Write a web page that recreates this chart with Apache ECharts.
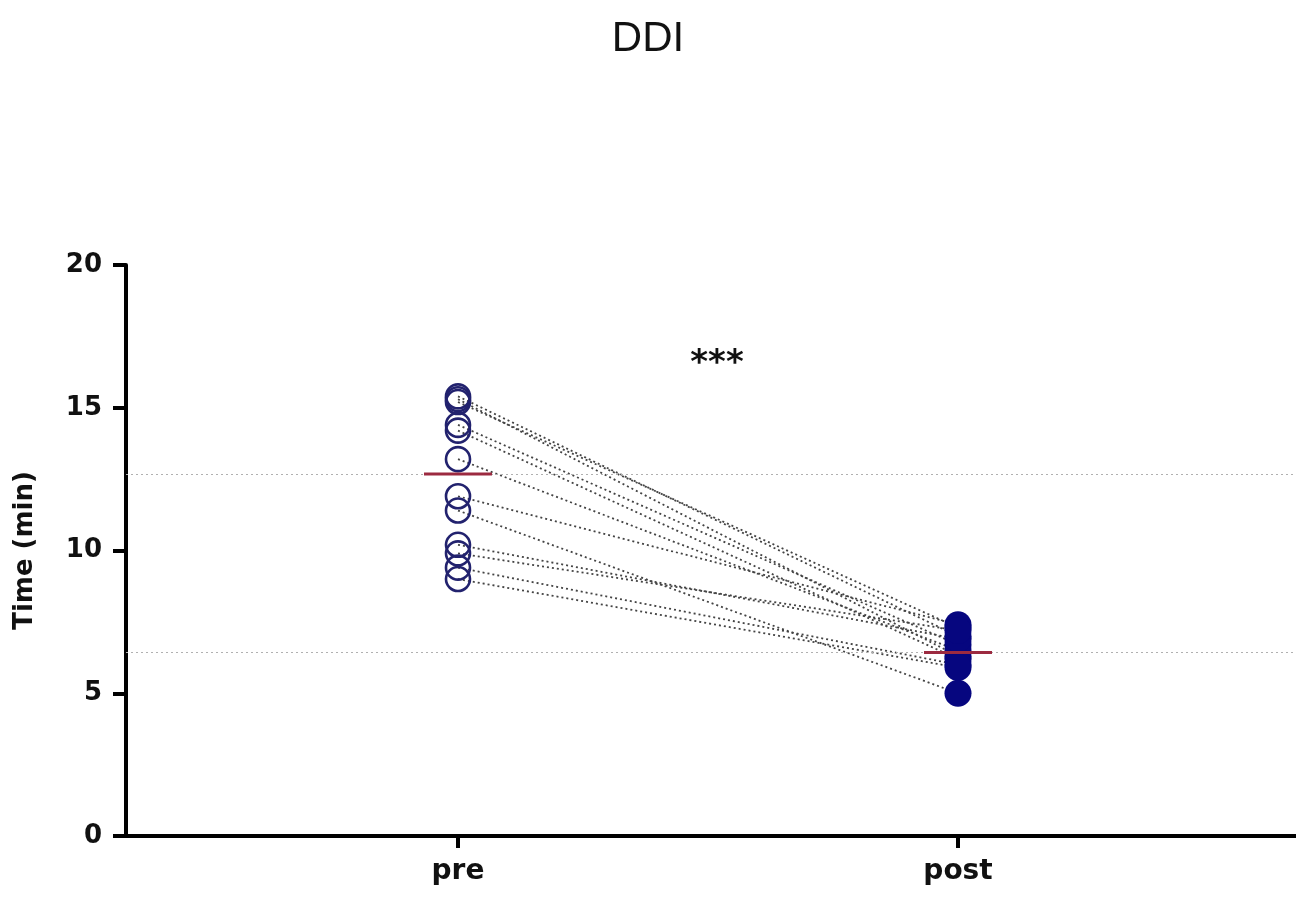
<!DOCTYPE html>
<html>
<head>
<meta charset="utf-8">
<title>DDI</title>
<script src="https://cdn.jsdelivr.net/npm/echarts@6/dist/echarts.min.js"></script>
<style>
html, body { margin: 0; padding: 0; background: #ffffff; }
#chart { width: 1296px; height: 902px; }
</style>
</head>
<body>
<div id="chart"></div>
<script>
// values, one entry per subject (pre -> post)
var groups = ["pre", "post"];
var preTime = [15.4, 15.3, 15.2, 14.4, 14.2, 13.2, 11.9, 11.4, 10.2, 9.9, 9.4, 9.0];
var postTime = [7.0, 6.3, 7.3, 6.7, 6.2, 6.5, 7.4, 5.0, 6.9, 7.2, 6.0, 5.9];
// group means as drawn (red bars + grey dotted reference lines)
var groupMean = [12.68, 6.43];
var yTicks = [0, 5, 10, 15, 20];

var Chart = echarts.init(document.getElementById("chart"));

var series = [];
// dotted lines linking each subject's pre and post value
for (var i = 0; i < preTime.length; i++) {
  series.push({
    type: "line",
    data: [[1, preTime[i]], [2, postTime[i]]],
    symbol: "none",
    silent: true,
    z: 1,
    lineStyle: { color: "#444444", width: 1.8, type: [2, 3] }
  });
}

series.push({
  name: "pre",
  type: "scatter",
  data: preTime.map(function (v) { return [1, v]; }),
  symbol: "circle",
  symbolSize: 24,
  z: 3,
  itemStyle: { color: "rgba(255,255,255,0)", borderColor: "#22226e", borderWidth: 2.6, opacity: 1 }
});

series.push({
  name: "post",
  type: "scatter",
  data: postTime.map(function (v) { return [2, v]; }),
  symbol: "circle",
  symbolSize: 27,
  z: 3,
  itemStyle: { color: "#06067f", opacity: 1 }
});

series.push({
  name: "mean",
  type: "scatter",
  data: groupMean.map(function (v, k) { return [k + 1, v]; }),
  symbol: "rect",
  symbolSize: [68, 3],
  z: 5,
  itemStyle: { color: "#9c2a40", opacity: 1 },
  markLine: {
    silent: true,
    symbol: "none",
    label: { show: false },
    lineStyle: { color: "#b0b0b0", width: 1.2, type: [2, 3] },
    data: groupMean.map(function (v) { return { yAxis: v }; })
  }
});

Chart.setOption({
  backgroundColor: "#ffffff",
  animation: false,
  title: {
    text: "DDI",
    left: "center",
    top: 13,
    textStyle: { fontFamily: "Liberation Sans", fontSize: 42, fontWeight: "normal", color: "#111111" }
  },
  graphic: [
    {
      type: "text",
      x: 717,
      y: 364,
      style: {
        text: "***",
        align: "center",
        verticalAlign: "middle",
        font: "bold 34px 'DejaVu Sans'",
        fill: "#111111"
      }
    }
  ],
  grid: { left: 126, right: 0, top: 265, bottom: 66, containLabel: false },
  xAxis: {
    type: "value",
    min: 0.336,
    max: 2.676,
    splitLine: { show: false },
    axisLine: { onZero: false, lineStyle: { color: "#000000", width: 4 } },
    axisTick: { customValues: [1, 2], length: 12, lineStyle: { color: "#000000", width: 4 } },
    axisLabel: {
      customValues: [1, 2],
      margin: 22,
      fontFamily: "DejaVu Sans",
      fontWeight: "bold",
      fontSize: 28,
      color: "#111111",
      formatter: function (v) { return groups[Math.round(v) - 1]; }
    }
  },
  yAxis: {
    type: "value",
    min: yTicks[0],
    max: yTicks[yTicks.length - 1],
    interval: 5,
    name: "Time (min)",
    nameLocation: "middle",
    nameGap: 88,
    nameTextStyle: { fontFamily: "DejaVu Sans", fontWeight: "bold", fontSize: 26, color: "#111111" },
    splitLine: { show: false },
    axisLine: { show: true, onZero: false, lineStyle: { color: "#000000", width: 4 } },
    axisTick: { show: true, length: 13, lineStyle: { color: "#000000", width: 4 } },
    axisLabel: {
      margin: 24,
      fontFamily: "DejaVu Sans",
      fontWeight: "bold",
      fontSize: 26,
      color: "#111111"
    }
  },
  series: series
});
</script>
</body>
</html>
